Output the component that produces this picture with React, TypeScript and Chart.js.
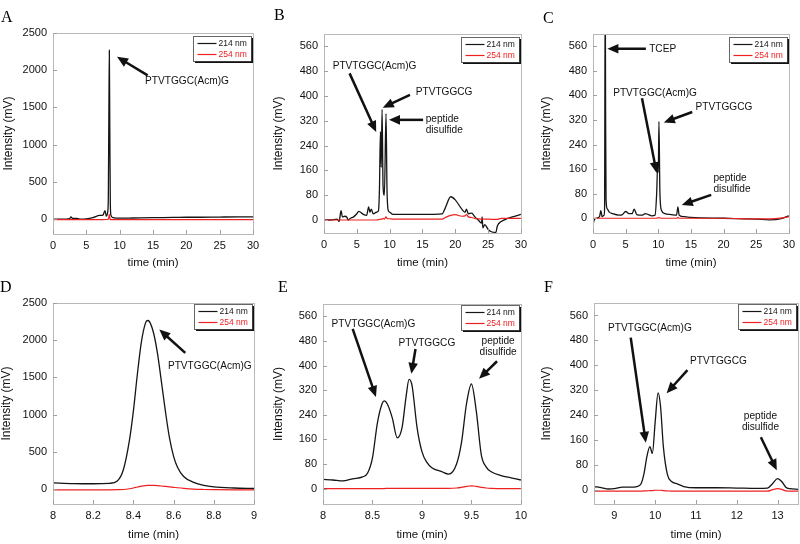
import React, { useEffect, useRef } from "react";
import { Chart, registerables } from "chart.js";
Chart.register(...registerables);

const SANS = '"Liberation Sans", Arial, Helvetica, sans-serif';
const SERIF = '"Liberation Serif", "Times New Roman", serif';
const BLACK = "#151515";
const RED = "#ee2020";

// ---------- tick labels ----------
const X_TICKS_FULL = [0, 5, 10, 15, 20, 25, 30];
const X_TICKS_D = [8, 8.2, 8.4, 8.6, 8.8, 9];
const X_TICKS_E = [8, 8.5, 9, 9.5, 10];
const X_TICKS_F = [9, 10, 11, 12, 13];
const Y_TICKS_LARGE = [0, 500, 1000, 1500, 2000, 2500];
const Y_TICKS_SMALL = [0, 80, 160, 240, 320, 400, 480, 560];
const SERIES_LABELS = ["214 nm", "254 nm"];

// ---------- panel A ----------
const A_TIME = [0, 1, 2, 2.5, 2.7, 2.9, 3.5, 4, 5, 6, 7, 7.5, 7.8, 8.0, 8.2, 8.3, 8.38, 8.45, 8.52, 8.6, 8.7, 9, 10, 12, 15, 18, 20, 22, 25, 28, 30];
const A_214 = [0, 0, 0, 5, 30, 10, 10, 0, 3, 20, 50, 55, 115, 40, 90, 300, 1400, 2270, 1200, 200, 50, 20, 12, 15, 20, 22, 25, 25, 28, 30, 30];
const A_254 = [-8, -8, -8, -8, -8, -8, -8, -8, -8, -8, -8, -8, -5, -5, -5, 0, 25, 65, 20, -5, -8, -8, -8, -8, -8, -8, -8, -8, -8, -8, -8];

// ---------- panel B ----------
const B_TIME = [0, 1, 2, 2.3, 2.6, 2.8, 3.2, 3.5, 3.7, 4, 4.5, 5, 5.3, 6, 6.5, 6.8, 7, 7.2, 7.5, 8, 8.3, 8.45, 8.6, 8.72, 8.85, 9.0, 9.2, 9.45, 9.6, 9.8, 10, 10.5, 12, 15, 18, 18.5, 19.3, 20, 21, 21.5, 21.7, 22, 22.5, 23, 23.5, 24, 24.1, 24.2, 24.5, 25, 25.5, 26.2, 26.4, 27, 28, 29, 30];
const B_214 = [0, 0, 3, -5, 30, 10, 12, 8, 0, 5, 10, 20, 28, 18, 15, 42, 25, 35, 20, 25, 30, 100, 285, 170, 357, 110, 80, 343, 100, 30, 25, 18, 18, 18, 20, 40, 75, 65, 35, 25, 35, 20, 22, 10, 0, -10, 10, -25, -15, -30, -38, -40, -20, -5, 5, 12, 18];
const B_254 = [0, 0, 0, 0, 0, 0, 0, 0, 0, 0, 0, 0, 0, 0, 0, 0, 0, 0, 0, 0, 1, 2, 3, 3, 3, 5, 3, 10, 5, 4, 4, 3, 3, 3, 3, 8, 15, 17, 12, 13, 18, 10, 8, 5, 4, 3, 3, 3, 3, 3, 2, 2, 2, 5, 5, 5, 5];

// ---------- panel C ----------
const C_TIME = [0, 0.2, 0.5, 1, 1.2, 1.4, 1.7, 1.78, 1.83, 1.88, 1.93, 2.0, 2.2, 2.5, 3, 4, 4.5, 5, 5.5, 6, 6.3, 6.7, 7.5, 8, 8.5, 9, 9.5, 9.75, 9.9, 10.0, 10.1, 10.25, 10.5, 11, 12, 12.8, 13, 13.2, 14, 15, 20, 25, 27, 29, 30];
const C_214 = [-20, -5, 0, 5, 25, 5, 10, 40, 500, 700, 350, 60, 30, 20, 15, 10, 12, 22, 15, 15, 30, 12, 10, 15, 12, 8, 10, 80, 170, 150, 315, 80, 25, 15, 12, 10, 37, 10, 5, 3, 0, -3, -5, 0, 8];
const C_254 = [0, 0, 0, 0, 0, 0, 0, 0, 0, 0, 0, 0, 0, 0, 0, 0, 0, 0, 0, 0, 0, 0, 0, 0, 0, 0, 0, 0, 1, 1, 2, 1, 0, 0, 0, 0, 3, 0, 0, 0, 0, -2, -2, 1, 5];

// ---------- panel D ----------
const D_TIME = [8.0, 8.1, 8.2, 8.28, 8.32, 8.35, 8.38, 8.4, 8.42, 8.44, 8.46, 8.47, 8.48, 8.5, 8.52, 8.54, 8.56, 8.58, 8.6, 8.62, 8.65, 8.7, 8.75, 8.8, 8.9, 9.0];
const D_214 = [85, 75, 72, 78, 110, 260, 650, 1050, 1550, 1980, 2230, 2265, 2250, 2100, 1820, 1430, 1030, 680, 440, 290, 170, 90, 50, 30, 15, 8];
const D_254 = [-10, -10, -10, -10, -8, -5, 5, 15, 28, 40, 48, 50, 51, 50, 47, 42, 36, 30, 24, 18, 10, 0, -5, -8, -10, -10];

// ---------- panel E ----------
const E_TIME = [8.0, 8.1, 8.2, 8.3, 8.4, 8.45, 8.5, 8.55, 8.6, 8.62, 8.65, 8.7, 8.75, 8.8, 8.84, 8.87, 8.9, 8.95, 9.0, 9.05, 9.1, 9.2, 9.27, 9.35, 9.4, 9.45, 9.5, 9.55, 9.6, 9.65, 9.7, 9.8, 9.9, 10.0];
const E_214 = [30, 28, 25, 32, 38, 50, 100, 214, 278, 285, 275, 230, 165, 200, 300, 355, 335, 200, 120, 85, 68, 55, 47, 80, 150, 275, 340, 250, 110, 70, 55, 42, 35, 28];
const E_254 = [0, 0, 0, 0, 0, 0, 0, 0, 0, 0, 1, 1, 1, 1, 1, 1, 1, 1, 1, 1, 1, 1, 1, 2, 4, 7, 9, 7, 4, 2, 1, 0, 0, 0];

// ---------- panel F ----------
const F_TIME = [8.5, 8.7, 8.85, 9.0, 9.2, 9.4, 9.55, 9.65, 9.72, 9.8, 9.87, 9.93, 10.0, 10.07, 10.13, 10.2, 10.3, 10.4, 10.55, 10.7, 11, 11.5, 12, 12.5, 12.75, 12.88, 13.0, 13.1, 13.2, 13.3, 13.5];
const F_214 = [12, 8, 4, 5, 10, 10, 12, 20, 50, 110, 140, 118, 220, 312, 270, 140, 50, 28, 20, 12, 8, 8, 7, 6, 7, 22, 37, 28, 10, 5, 3];
const F_254 = [-3, -3, -3, -3, -3, -3, -3, -3, -2, -2, -1, -1, 0, 0, 0, -1, -2, -3, -3, -3, -3, -3, -3, -3, -3, 2, 5, 3, -2, -3, -3];

type Note = {
  lines: string[];
  x: number;
  y: number[];
  align: CanvasTextAlign;
  from: [number, number];
  to: [number, number];
};

type PanelDef = {
  letter: string;
  x0: number; y0: number; w: number; h: number;
  plotLeft: number; plotRight: number; plotTop: number; plotBottom: number;
  xMin: number; xMax: number; xTicks: number[];
  yMin: number; yMax: number; yTicks: number[];
  time: number[]; s214: number[]; s254: number[];
  notes: Note[];
  yTitleX: number; letterX: number; letterY: number; legendDy: number;
};

const PANELS: PanelDef[] = [
  {
    letter: "A", x0: 0, y0: 0, w: 266, h: 272,
    plotLeft: 53, plotRight: 253, plotTop: 33, plotBottom: 234,
    xMin: 0, xMax: 30, xTicks: X_TICKS_FULL, yMin: -200, yMax: 2500, yTicks: Y_TICKS_LARGE,
    time: A_TIME, s214: A_214, s254: A_254,
    notes: [
      { lines: ["PTVTGGC(Acm)G"], x: 20.1, y: [1850], align: "center", from: [14.2, 1930], to: [9.6, 2180] },
    ],
    yTitleX: 9, letterX: 1, letterY: 22, legendDy: 3,
  },
  {
    letter: "B", x0: 266, y0: 0, w: 266, h: 272,
    plotLeft: 58, plotRight: 260, plotTop: 34, plotBottom: 233,
    xMin: 0, xMax: 30, xTicks: X_TICKS_FULL, yMin: -42, yMax: 600, yTicks: Y_TICKS_SMALL,
    time: B_TIME, s214: B_214, s254: B_254,
    notes: [
      { lines: ["PTVTGGC(Acm)G"], x: 7.7, y: [496], align: "center", from: [3.9, 473], to: [7.95, 284] },
      { lines: ["PTVTGGCG"], x: 18.3, y: [414], align: "center", from: [13.1, 404], to: [8.95, 362] },
      { lines: ["peptide", "disulfide"], x: 15.5, y: [327, 289], align: "left", from: [15.1, 323], to: [9.9, 323] },
    ],
    yTitleX: 13, letterX: 8, letterY: 20, legendDy: 3,
  },
  {
    letter: "C", x0: 532, y0: 0, w: 268, h: 272,
    plotLeft: 61, plotRight: 261, plotTop: 34, plotBottom: 233,
    xMin: 0, xMax: 30, xTicks: X_TICKS_FULL, yMin: -48, yMax: 600, yTicks: Y_TICKS_SMALL,
    time: C_TIME, s214: C_214, s254: C_254,
    notes: [
      { lines: ["TCEP"], x: 8.6, y: [552], align: "left", from: [8.1, 552], to: [2.2, 552] },
      { lines: ["PTVTGGC(Acm)G"], x: 9.5, y: [408], align: "center", from: [7.5, 391], to: [9.75, 147] },
      { lines: ["PTVTGGCG"], x: 20.05, y: [364], align: "center", from: [15.2, 346], to: [10.85, 312] },
      { lines: ["peptide", "disulfide"], x: 18.45, y: [130, 95], align: "left", from: [18.1, 76], to: [13.6, 43] },
    ],
    yTitleX: 15, letterX: 11, letterY: 23, legendDy: 3,
  },
  {
    letter: "D", x0: 0, y0: 272, w: 266, h: 272,
    plotLeft: 53, plotRight: 254, plotTop: 31, plotBottom: 232,
    xMin: 8, xMax: 9, xTicks: X_TICKS_D, yMin: -200, yMax: 2500, yTicks: Y_TICKS_LARGE,
    time: D_TIME, s214: D_214, s254: D_254,
    notes: [
      { lines: ["PTVTGGC(Acm)G"], x: 8.78, y: [1652], align: "center", from: [8.658, 1830], to: [8.529, 2143] },
    ],
    yTitleX: 7, letterX: 0, letterY: 20, legendDy: 1,
  },
  {
    letter: "E", x0: 266, y0: 272, w: 266, h: 272,
    plotLeft: 57, plotRight: 261, plotTop: 32, plotBottom: 232,
    xMin: 8, xMax: 10, xTicks: X_TICKS_E, yMin: -50, yMax: 600, yTicks: Y_TICKS_SMALL,
    time: E_TIME, s214: E_214, s254: E_254,
    notes: [
      { lines: ["PTVTGGC(Acm)G"], x: 8.51, y: [535], align: "center", from: [8.3, 519], to: [8.535, 298] },
      { lines: ["PTVTGGCG"], x: 9.05, y: [473], align: "center", from: [8.935, 454], to: [8.893, 373] },
      { lines: ["peptide", "disulfide"], x: 9.77, y: [479, 444], align: "center", from: [9.759, 414], to: [9.577, 357] },
    ],
    yTitleX: 13, letterX: 12, letterY: 20, legendDy: 1,
  },
  {
    letter: "F", x0: 532, y0: 272, w: 268, h: 272,
    plotLeft: 62, plotRight: 266, plotTop: 31, plotBottom: 232,
    xMin: 8.5, xMax: 13.5, xTicks: X_TICKS_F, yMin: -44, yMax: 600, yTicks: Y_TICKS_SMALL,
    time: F_TIME, s214: F_214, s254: F_254,
    notes: [
      { lines: ["PTVTGGC(Acm)G"], x: 9.87, y: [521], align: "center", from: [9.4, 489], to: [9.77, 152] },
      { lines: ["PTVTGGCG"], x: 11.55, y: [414], align: "center", from: [10.79, 385], to: [10.28, 311] },
      { lines: ["peptide", "disulfide"], x: 12.58, y: [237, 202], align: "center", from: [12.59, 170], to: [12.98, 64] },
    ],
    yTitleX: 15, letterX: 12, letterY: 20, legendDy: 1,
  },
];

function drawArrow(ctx: CanvasRenderingContext2D, x1: number, y1: number, x2: number, y2: number) {
  const ang = Math.atan2(y2 - y1, x2 - x1);
  const hl = 11;
  const hw = 4.8;
  const c = Math.cos(ang);
  const s = Math.sin(ang);
  const bx = x2 - hl * c;
  const by = y2 - hl * s;
  ctx.beginPath();
  ctx.moveTo(x1, y1);
  ctx.lineTo(bx + c * 1, by + s * 1);
  ctx.lineWidth = 2.5;
  ctx.strokeStyle = "#111";
  ctx.stroke();
  ctx.beginPath();
  ctx.moveTo(x2, y2);
  ctx.lineTo(bx + hw * s, by - hw * c);
  ctx.lineTo(bx - hw * s, by + hw * c);
  ctx.closePath();
  ctx.fillStyle = "#111";
  ctx.fill();
}

function Panel({ p }: { p: PanelDef }) {
  const ref = useRef<HTMLCanvasElement>(null);
  useEffect(() => {
    const canvas = ref.current;
    if (!canvas) return;
    const overlay = {
      id: "overlay",
      afterDatasetsDraw(chart: any) {
        const ctx: CanvasRenderingContext2D = chart.ctx;
        const ca = chart.chartArea;
        const xs = chart.scales.x;
        const ys = chart.scales.y;
        ctx.save();
        // frame
        ctx.strokeStyle = "#b8b8b8";
        ctx.lineWidth = 1;
        ctx.strokeRect(Math.round(ca.left) + 0.5, Math.round(ca.top) + 0.5, Math.round(ca.right - ca.left), Math.round(ca.bottom - ca.top));
        // inward ticks
        ctx.strokeStyle = "#a0a0a0";
        ctx.beginPath();
        p.xTicks.forEach((v) => {
          const px = Math.round(xs.getPixelForValue(v)) + 0.5;
          ctx.moveTo(px, ca.bottom);
          ctx.lineTo(px, ca.bottom - 4);
        });
        p.yTicks.forEach((v) => {
          const py = Math.round(ys.getPixelForValue(v)) + 0.5;
          ctx.moveTo(ca.left, py);
          ctx.lineTo(ca.left + 4, py);
        });
        ctx.stroke();
        // legend
        const bw = 58;
        const bh = 25;
        const bx = Math.round(ca.right - 2 - bw) + 0.5;
        const by = Math.round(ca.top + p.legendDy) + 0.5;
        ctx.fillStyle = "#fff";
        ctx.fillRect(bx, by, bw, bh);
        ctx.strokeStyle = "#666";
        ctx.lineWidth = 1;
        ctx.strokeRect(bx, by, bw, bh);
        ctx.fillStyle = "#111";
        ctx.fillRect(bx + bw, by + 1.5, 1.5, bh);
        ctx.fillRect(bx + 1.5, by + bh, bw, 1.5);
        ctx.font = `8.5px ${SANS}`;
        ctx.textBaseline = "middle";
        ctx.textAlign = "left";
        const rows = [
          { y: by + 7, c: BLACK, t: SERIES_LABELS[0] },
          { y: by + 18, c: RED, t: SERIES_LABELS[1] },
        ];
        rows.forEach((r) => {
          ctx.strokeStyle = r.c;
          ctx.lineWidth = 1.2;
          ctx.beginPath();
          ctx.moveTo(bx + 4, r.y);
          ctx.lineTo(bx + 23, r.y);
          ctx.stroke();
          ctx.fillStyle = r.c;
          ctx.fillText(r.t, bx + 25, r.y + 0.5);
        });
        // annotations
        ctx.fillStyle = "#111";
        ctx.font = `11px ${SANS}`;
        ctx.textBaseline = "middle";
        p.notes.forEach((n) => {
          const tx = xs.getPixelForValue(n.x);
          n.lines.forEach((line, i) => {
            const ty = ys.getPixelForValue(n.y[i]);
            ctx.save();
            ctx.translate(tx, ty);
            ctx.scale(0.92, 1);
            ctx.textAlign = n.align;
            ctx.fillStyle = "#111";
            ctx.fillText(line, 0, 0);
            ctx.restore();
          });
          drawArrow(
            ctx,
            xs.getPixelForValue(n.from[0]), ys.getPixelForValue(n.from[1]),
            xs.getPixelForValue(n.to[0]), ys.getPixelForValue(n.to[1])
          );
        });
        // panel letter
        ctx.fillStyle = "#000";
        ctx.font = `16px ${SERIF}`;
        ctx.textAlign = "left";
        ctx.textBaseline = "alphabetic";
        ctx.fillText(p.letter, p.letterX, p.letterY);
        ctx.restore();
      },
    };

    const pts = (arr: number[]) => p.time.map((t, i) => ({ x: t, y: arr[i] }));

    const chart = new Chart(canvas, {
      type: "line",
      data: {
        datasets: [
          {
            label: SERIES_LABELS[1],
            data: pts(p.s254),
            borderColor: RED,
            borderWidth: 1.2,
            pointRadius: 0,
            fill: false,
            cubicInterpolationMode: "monotone",
          },
          {
            label: SERIES_LABELS[0],
            data: pts(p.s214),
            borderColor: BLACK,
            borderWidth: 1.3,
            pointRadius: 0,
            fill: false,
            cubicInterpolationMode: "monotone",
          },
        ],
      },
      options: {
        animation: false,
        responsive: false,
        maintainAspectRatio: false,
        events: [],
        layout: { padding: { left: 0, top: p.plotTop, right: p.w - p.plotRight, bottom: 0 } },
        plugins: { legend: { display: false }, tooltip: { enabled: false } },
        scales: {
          x: {
            type: "linear",
            min: p.xMin,
            max: p.xMax,
            grid: { display: false, drawTicks: false },
            border: { display: false },
            afterBuildTicks: (s: any) => {
              s.ticks = p.xTicks.map((v) => ({ value: v }));
            },
            afterFit: (s: any) => {
              s.height = p.h - p.plotBottom;
            },
            ticks: {
              autoSkip: false,
              maxRotation: 0,
              padding: 5,
              color: "#111",
              font: { family: SANS, size: 11 },
              callback: (v: any) => String(v),
            },
            title: {
              display: true,
              text: "time (min)",
              color: "#111",
              font: { family: SANS, size: 11.5 },
              padding: { top: 0, bottom: 2.5 },
            },
          },
          y: {
            type: "linear",
            min: p.yMin,
            max: p.yMax,
            grid: { display: false, drawTicks: false },
            border: { display: false },
            afterBuildTicks: (s: any) => {
              s.ticks = p.yTicks.map((v) => ({ value: v }));
            },
            afterFit: (s: any) => {
              s.width = p.plotLeft;
            },
            ticks: {
              autoSkip: false,
              padding: 6,
              color: "#111",
              font: { family: SANS, size: 11 },
              callback: (v: any) => String(v),
            },
            title: {
              display: true,
              text: "Intensity (mV)",
              color: "#111",
              font: { family: SANS, size: 12 },
              padding: { top: p.yTitleX - 7.2, bottom: 0 },
            },
          },
        },
      },
      plugins: [overlay],
    } as any);
    return () => chart.destroy();
  }, [p]);
  return (
    <div style={{ position: "absolute", left: p.x0, top: p.y0, width: p.w, height: p.h }}>
      <canvas ref={ref} width={p.w} height={p.h} style={{ display: "block", width: p.w, height: p.h }} />
    </div>
  );
}

export default function App() {
  return (
    <div style={{ position: "fixed", left: 0, top: 0, width: 800, height: 544, background: "#fff", overflow: "hidden" }}>
      {PANELS.map((p) => (
        <Panel key={p.letter} p={p} />
      ))}
    </div>
  );
}
